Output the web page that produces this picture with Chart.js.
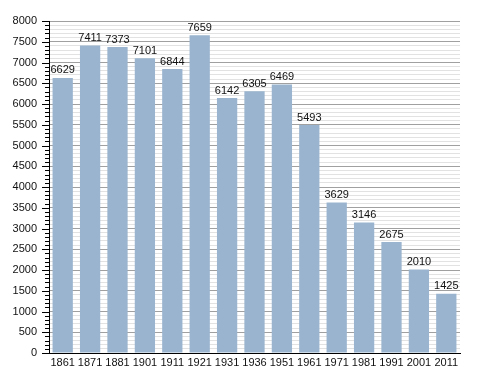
<!DOCTYPE html>
<html>
<head>
<meta charset="utf-8">
<script src="https://cdn.jsdelivr.net/npm/chart.js"></script>
<style>
  html, body { margin: 0; padding: 0; background: #fff; }
  #wrap { width: 488px; height: 373px; }
</style>
</head>
<body>
<div id="wrap"><canvas id="chart"></canvas></div>
<script>
const years = ['1861', '1871', '1881', '1901', '1911', '1921', '1931', '1936', '1951', '1961', '1971', '1981', '1991', '2001', '2011'];
const population = [6629, 7411, 7373, 7101, 6844, 7659, 6142, 6305, 6469, 5493, 3629, 3146, 2675, 2010, 1425];
const yMax = 8000;
const yStep = 100;
const yLabelStep = 500;

const FONT = 'Liberation Sans, Arial, Helvetica, sans-serif';

// value labels above each bar
const valueLabels = {
  id: 'valueLabels',
  afterDatasetsDraw(chart) {
    const { ctx } = chart;
    const meta = chart.getDatasetMeta(0);
    ctx.save();
    ctx.font = '11px ' + FONT;
    ctx.fillStyle = '#111';
    ctx.textAlign = 'center';
    ctx.textBaseline = 'bottom';
    meta.data.forEach((bar, i) => {
      ctx.fillText(String(population[i]), bar.x, bar.y - 2);
    });
    ctx.restore();
  },
};

// short minor / longer major tick marks on the left of the y axis
const yTickMarks = {
  id: 'yTickMarks',
  afterDraw(chart) {
    const { ctx } = chart;
    const y = chart.scales.y;
    const left = chart.chartArea.left;
    ctx.save();
    ctx.strokeStyle = '#000';
    ctx.lineWidth = 1;
    y.ticks.forEach((t) => {
      const py = Math.round(y.getPixelForValue(t.value)) + 0.5;
      const len = t.value % yLabelStep === 0 ? 7 : 4;
      ctx.beginPath();
      ctx.moveTo(left - len, py);
      ctx.lineTo(left, py);
      ctx.stroke();
    });
    ctx.restore();
  },
};

new Chart(document.getElementById('chart'), {
  type: 'bar',
  data: {
    labels: years,
    datasets: [{
      data: population,
      backgroundColor: '#9ab4cf',
      borderWidth: 0,
      barPercentage: 0.74,
      categoryPercentage: 1,
    }],
  },
  options: {
    responsive: true,
    maintainAspectRatio: false,
    animation: false,
    devicePixelRatio: 1,
    layout: { padding: { top: 21, right: 28, left: 0, bottom: 0 } },
    plugins: {
      legend: { display: false },
      tooltip: { enabled: false },
    },
    scales: {
      x: {
        afterFit(scale) { scale.height = 20; },
        grid: { display: false, drawTicks: false },
        border: { color: '#000', width: 1 },
        ticks: {
          color: '#111',
          font: { family: FONT, size: 11 },
          padding: 3,
          maxRotation: 0,
          autoSkip: false,
        },
      },
      y: {
        min: 0,
        max: yMax,
        afterFit(scale) { scale.width = 49; },
        grid: {
          drawTicks: false,
          color: (c) => (c.tick && c.tick.value % yLabelStep === 0 ? '#a0a0a0' : '#e2e2e2'),
          lineWidth: 1,
        },
        border: { color: '#000', width: 1 },
        ticks: {
          stepSize: yStep,
          maxTicksLimit: 200,
          autoSkip: false,
          color: '#111',
          font: { family: FONT, size: 11 },
          padding: 12,
          callback: (v) => (v % yLabelStep === 0 ? String(v) : ''),
        },
      },
    },
  },
  plugins: [valueLabels, yTickMarks],
});
</script>
</body>
</html>
